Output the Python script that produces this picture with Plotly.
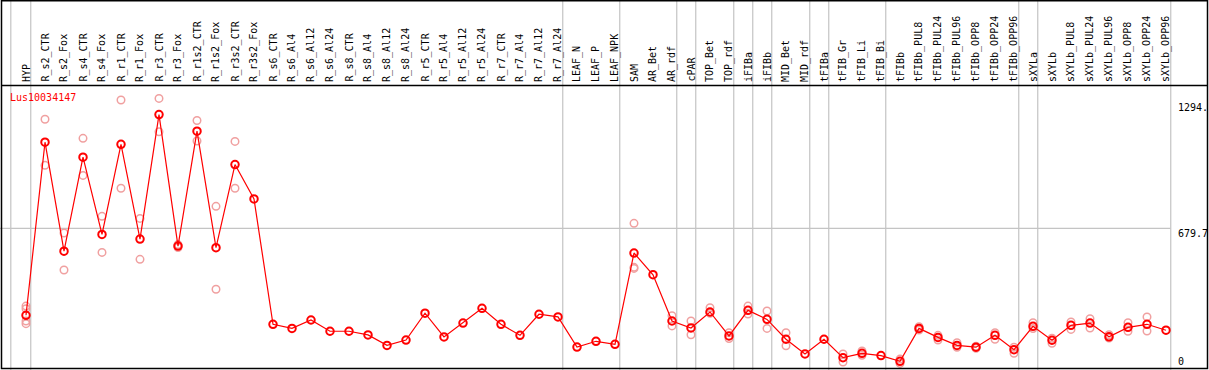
import plotly.graph_objects as go

# ---------------- data ----------------
categories = ["HYP",
    "R_s2_CTR", "R_s2_Fox", "R_s4_CTR", "R_s4_Fox", "R_r1_CTR", "R_r1_Fox", "R_r3_CTR", "R_r3_Fox",
    "R_r1s2_CTR", "R_r1s2_Fox", "R_r3s2_CTR", "R_r3s2_Fox",
    "R_s6_CTR", "R_s6_Al4", "R_s6_Al12", "R_s6_Al24", "R_s8_CTR", "R_s8_Al4", "R_s8_Al12", "R_s8_Al24",
    "R_r5_CTR", "R_r5_Al4", "R_r5_Al12", "R_r5_Al24", "R_r7_CTR", "R_r7_Al4", "R_r7_Al12", "R_r7_Al24",
    "LEAF_N", "LEAF_P", "LEAF_NPK",
    "SAM", "AR_Bet", "AR_rdf",
    "cPAR",
    "TOP_Bet", "TOP_rdf",
    "iFIBa",
    "iFIBb",
    "MID_Bet", "MID_rdf",
    "tFIBa",
    "tFIB_Gr", "tFIB_Li", "tFIB_Bi",
    "tFIBb", "tFIBb_PUL8", "tFIBb_PUL24", "tFIBb_PUL96", "tFIBb_OPP8", "tFIBb_OPP24", "tFIBb_OPP96",
    "sXYLa",
    "sXYLb", "sXYLb_PUL8", "sXYLb_PUL24", "sXYLb_PUL96", "sXYLb_OPP8", "sXYLb_OPP24", "sXYLb_OPP96"]

# number of categories in each separated group (vertical grey separators)
group_sizes = [1, 28, 3, 3, 1, 2, 1, 1, 2, 1, 3, 7, 1, 7]

means = [255,
    1100, 568, 1027, 650, 1090, 627, 1235, 593,
    1154, 585, 991, 823,
    211, 191, 232, 177, 177, 159, 108, 134,
    265, 149, 217, 289, 211, 157, 260, 247,
    100, 128, 113,
    559, 453, 227,
    193,
    271, 154,
    279,
    235,
    138, 66,
    138,
    48, 69, 58,
    30, 191, 147, 108, 99, 157, 87,
    201,
    133, 206, 217, 150, 196, 211, 182]

replicates = [[300, 287, 227, 214],
    [1212, 987], [657, 476], [1119, 938], [738, 562], [1306, 875], [728, 528], [1314, 1151], [600, 586],
    [1206, 1106], [787, 382], [1104, 875], [],
    [], [], [], [], [], [], [], [],
    [], [], [], [], [], [], [], [],
    [], [], [],
    [704, 489, 484], [], [253, 203],
    [227, 160],
    [292, 265], [170, 141],
    [300, 261],
    [276, 191],
    [170, 106], [],
    [],
    [66, 27], [81, 60], [],
    [41, 20], [199, 183], [157, 134], [121, 99], [104, 94], [170, 138], [99, 69],
    [219, 190],
    [143, 118], [222, 186], [238, 193], [160, 144], [219, 177], [247, 178], []]

gene_label = "Lus10034147"
tick_values = [0, 679.7, 1294]
tick_texts = ["0", "679.7", "1294."]

# ---------------- layout constants ----------------
W, H = 1209, 370
X0_PX, DX_PX = 26.0, 19.0           # pixel position of first category, spacing
Y0_PX, DY_PX = 367.5, 0.2048        # pixel of value 0, pixels per unit
x_range = [-X0_PX / DX_PX, (W - X0_PX) / DX_PX]
y_range = [(Y0_PX - H) / DY_PX, Y0_PX / DY_PX]

def px_to_paper_x(px):
    return px / W

def px_to_paper_y(py):
    return 1 - py / H

RED = "#ff0000"
PINK = "rgb(240,160,160)"
GRID = "#c4c4c4"
FONT = "DejaVu Sans Mono"

idx = list(range(len(categories)))

fig = go.Figure()

# replicate points
rx, ry = [], []
for i, reps in enumerate(replicates):
    for v in reps:
        rx.append(i)
        ry.append(v)
fig.add_trace(go.Scatter(x=rx, y=ry, mode="markers",
                         marker=dict(symbol="circle-open", size=7.5, color=PINK, line=dict(width=1.5, color=PINK)),
                         hoverinfo="skip", showlegend=False))

# mean line + markers
fig.add_trace(go.Scatter(x=idx, y=means, mode="lines+markers",
                         line=dict(color=RED, width=1.2),
                         marker=dict(symbol="circle-open", size=7.5, color=RED, line=dict(width=2, color=RED)),
                         showlegend=False))

shapes = []
# vertical grey separators
bounds = []
start = 0
bounds.append(start - 0.8)
for g in group_sizes:
    start += g
    bounds.append(start - 0.75)
for b in bounds:
    shapes.append(dict(type="line", xref="x", yref="paper", x0=b, x1=b, y0=0, y1=1,
                       line=dict(color=GRID, width=1.2), layer="below"))
# horizontal grid line at mid tick
shapes.append(dict(type="line", xref="paper", yref="y", x0=0, x1=px_to_paper_x(X0_PX + DX_PX * (len(categories) - 1) + 4.7),
                   y0=tick_values[1], y1=tick_values[1], line=dict(color=GRID, width=1.2), layer="below"))
# frame
shapes.append(dict(type="rect", xref="paper", yref="paper",
                   x0=px_to_paper_x(1.5), x1=px_to_paper_x(1207.5), y0=px_to_paper_y(368.5), y1=px_to_paper_y(0.8),
                   line=dict(color="black", width=1.5), fillcolor="rgba(0,0,0,0)"))
# header separator line
shapes.append(dict(type="line", xref="paper", yref="paper",
                   x0=px_to_paper_x(1.5), x1=px_to_paper_x(1207.5), y0=px_to_paper_y(85.5), y1=px_to_paper_y(85.5),
                   line=dict(color="black", width=1.5)))

annotations = []
for i, c in enumerate(categories):
    annotations.append(dict(x=i, xref="x", y=px_to_paper_y(84), yref="paper", text=c, textangle=-90,
                            showarrow=False, xanchor="center", yanchor="bottom",
                            font=dict(family=FONT, size=10, color="black")))
annotations.append(dict(x=px_to_paper_x(8), xref="paper", y=px_to_paper_y(97), yref="paper", text=gene_label,
                        showarrow=False, xanchor="left", yanchor="middle",
                        font=dict(family=FONT, size=10, color=RED)))
tick_x = px_to_paper_x(1176)
for v, t in zip(tick_values, tick_texts):
    if v == 0:
        annotations.append(dict(x=tick_x, xref="paper", y=v, yref="y", text=t, showarrow=False,
                                xanchor="left", yanchor="bottom", yshift=-1,
                                font=dict(family=FONT, size=10, color="black")))
    else:
        annotations.append(dict(x=tick_x, xref="paper", y=v, yref="y", text=t, showarrow=False,
                                xanchor="left", yanchor="top", yshift=2,
                                font=dict(family=FONT, size=10, color="black")))

fig.update_layout(
    width=W, height=H,
    margin=dict(l=0, r=0, t=0, b=0, pad=0),
    paper_bgcolor="white", plot_bgcolor="white",
    xaxis=dict(range=x_range, visible=False, fixedrange=True),
    yaxis=dict(range=y_range, visible=False, fixedrange=True),
    shapes=shapes, annotations=annotations,
    showlegend=False,
)

fig.write_html("out.html", config={"displayModeBar": False},
               post_script="document.body.style.margin='0';document.body.style.padding='0';document.body.style.overflow='hidden';")
